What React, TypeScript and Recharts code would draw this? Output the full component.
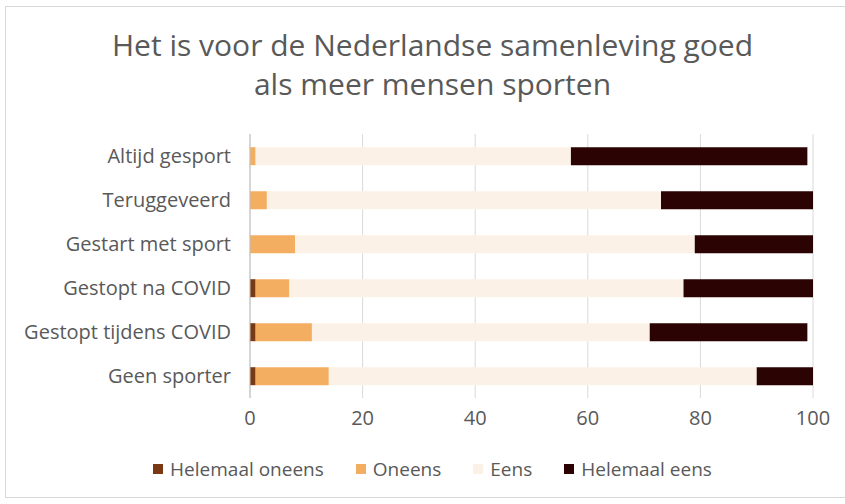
import { Bar, BarChart, CartesianGrid, XAxis, YAxis } from 'recharts';

const groups = [
  'Altijd gesport',
  'Teruggeveerd',
  'Gestart met sport',
  'Gestopt na COVID',
  'Gestopt tijdens COVID',
  'Geen sporter',
];
const helemaalOneens = [0, 0, 0, 1, 1, 1];
const oneens = [1, 3, 8, 6, 10, 13];
const eens = [56, 70, 71, 70, 60, 76];
const helemaalEens = [42, 27, 21, 23, 28, 10];
const xTicks = [0, 20, 40, 60, 80, 100];

const seriesDefs = [
  { key: 'Helemaal oneens', values: helemaalOneens, colour: '#7a3913' },
  { key: 'Oneens', values: oneens, colour: '#f4ae62' },
  { key: 'Eens', values: eens, colour: '#fcf1e6' },
  { key: 'Helemaal eens', values: helemaalEens, colour: '#2b0303' },
];

const data = groups.map((g, i) => {
  const row: Record<string, string | number> = { group: g };
  for (const s of seriesDefs) row[s.key] = s.values[i];
  return row;
});

const FONT = '"Open Sans", Roboto, sans-serif';
const TEXT = '#595959';

export default function App() {
  return (
    <div style={{ position: 'absolute', left: 0, top: 0, width: 845, height: 504, background: '#fff', overflow: 'hidden' }}>
      <div
        style={{
          position: 'absolute',
          left: 5,
          top: 6,
          width: 845,
          height: 492,
          border: '1px solid #d9d9d9',
          boxSizing: 'border-box',
        }}
      />
      <div
        style={{
          position: 'absolute',
          left: 0,
          top: 25,
          width: 865,
          textAlign: 'center',
          fontFamily: FONT,
          fontSize: 30,
          lineHeight: '39px',
          color: TEXT,
        }}
      >
        Het is voor de Nederlandse samenleving goed
        <br />
        als meer mensen sporten
      </div>
      <div style={{ position: 'absolute', left: 0, top: 0 }}>
        <BarChart
          width={845}
          height={504}
          data={data}
          layout="vertical"
          margin={{ top: 134, right: 32, bottom: 66, left: 0 }}
          barCategoryGap="30%"
        >
          <CartesianGrid horizontal={false} stroke="#d9d9d9" />
          <XAxis
            type="number"
            domain={[0, 100]}
            ticks={xTicks}
            height={40}
            axisLine={false}
            tickLine={false}
            tickSize={0}
            tickMargin={13}
            tick={{ fill: TEXT, fontSize: 20, fontFamily: FONT }}
          />
          <YAxis
            type="category"
            dataKey="group"
            width={250}
            axisLine={{ stroke: '#bfbfbf' }}
            tickLine={false}
            tickSize={0}
            tickMargin={19}
            tick={{ fill: TEXT, fontSize: 20, fontFamily: FONT }}
          />
          {seriesDefs.map((s) => (
            <Bar key={s.key} dataKey={s.key} stackId="a" fill={s.colour} isAnimationActive={false} />
          ))}
        </BarChart>
      </div>
      <div
        style={{
          position: 'absolute',
          left: 0,
          top: 456,
          width: 865,
          display: 'flex',
          justifyContent: 'center',
          gap: 32,
          fontFamily: FONT,
          fontSize: 19,
          color: TEXT,
        }}
      >
        {seriesDefs.map((s) => (
          <div key={s.key} style={{ display: 'flex', alignItems: 'center', gap: 7 }}>
            <span style={{ display: 'inline-block', width: 10, height: 10, background: s.colour }} />
            <span>{s.key}</span>
          </div>
        ))}
      </div>
    </div>
  );
}
